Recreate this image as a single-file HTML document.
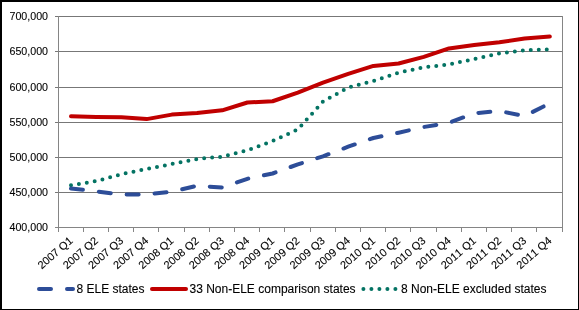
<!DOCTYPE html>
<html><head><meta charset="utf-8"><style>
html,body{margin:0;padding:0;background:#fff;}
body{width:579px;height:310px;overflow:hidden;position:relative;}
svg{position:absolute;left:0;top:0;will-change:transform;}
text{font-family:"Liberation Sans",sans-serif;fill:#000;font-kerning:none;stroke:#000;stroke-width:0.1px;}
</style></head><body>
<svg width="579" height="310" viewBox="0 0 579 310">
<rect x="0" y="0" width="579" height="310" fill="#fff"/>

<line x1="55" y1="16.5" x2="563" y2="16.5" stroke="#777777" stroke-width="1"/>
<line x1="55" y1="51.5" x2="563" y2="51.5" stroke="#777777" stroke-width="1"/>
<line x1="55" y1="87.5" x2="563" y2="87.5" stroke="#777777" stroke-width="1"/>
<line x1="55" y1="122.5" x2="563" y2="122.5" stroke="#777777" stroke-width="1"/>
<line x1="55" y1="157.5" x2="563" y2="157.5" stroke="#777777" stroke-width="1"/>
<line x1="55" y1="192.5" x2="563" y2="192.5" stroke="#777777" stroke-width="1"/>
<line x1="562.5" y1="16" x2="562.5" y2="231" stroke="#858585" stroke-width="1"/>
<line x1="58.5" y1="16" x2="58.5" y2="232" stroke="#858585" stroke-width="1"/>
<line x1="55" y1="227.5" x2="563" y2="227.5" stroke="#858585" stroke-width="1"/>
<line x1="58.5" y1="227" x2="58.5" y2="232" stroke="#858585" stroke-width="1"/>
<line x1="83.5" y1="227" x2="83.5" y2="232" stroke="#858585" stroke-width="1"/>
<line x1="108.5" y1="227" x2="108.5" y2="232" stroke="#858585" stroke-width="1"/>
<line x1="133.5" y1="227" x2="133.5" y2="232" stroke="#858585" stroke-width="1"/>
<line x1="158.5" y1="227" x2="158.5" y2="232" stroke="#858585" stroke-width="1"/>
<line x1="184.5" y1="227" x2="184.5" y2="232" stroke="#858585" stroke-width="1"/>
<line x1="209.5" y1="227" x2="209.5" y2="232" stroke="#858585" stroke-width="1"/>
<line x1="234.5" y1="227" x2="234.5" y2="232" stroke="#858585" stroke-width="1"/>
<line x1="259.5" y1="227" x2="259.5" y2="232" stroke="#858585" stroke-width="1"/>
<line x1="284.5" y1="227" x2="284.5" y2="232" stroke="#858585" stroke-width="1"/>
<line x1="310.5" y1="227" x2="310.5" y2="232" stroke="#858585" stroke-width="1"/>
<line x1="335.5" y1="227" x2="335.5" y2="232" stroke="#858585" stroke-width="1"/>
<line x1="360.5" y1="227" x2="360.5" y2="232" stroke="#858585" stroke-width="1"/>
<line x1="385.5" y1="227" x2="385.5" y2="232" stroke="#858585" stroke-width="1"/>
<line x1="410.5" y1="227" x2="410.5" y2="232" stroke="#858585" stroke-width="1"/>
<line x1="436.5" y1="227" x2="436.5" y2="232" stroke="#858585" stroke-width="1"/>
<line x1="461.5" y1="227" x2="461.5" y2="232" stroke="#858585" stroke-width="1"/>
<line x1="486.5" y1="227" x2="486.5" y2="232" stroke="#858585" stroke-width="1"/>
<line x1="511.5" y1="227" x2="511.5" y2="232" stroke="#858585" stroke-width="1"/>
<line x1="536.5" y1="227" x2="536.5" y2="232" stroke="#858585" stroke-width="1"/>
<line x1="562.5" y1="227" x2="562.5" y2="232" stroke="#858585" stroke-width="1"/>
<text x="48" y="20" font-size="10.67" text-anchor="end">700,000</text>
<text x="48" y="55" font-size="10.67" text-anchor="end">650,000</text>
<text x="48" y="91" font-size="10.67" text-anchor="end">600,000</text>
<text x="48" y="126" font-size="10.67" text-anchor="end">550,000</text>
<text x="48" y="161" font-size="10.67" text-anchor="end">500,000</text>
<text x="48" y="196" font-size="10.67" text-anchor="end">450,000</text>
<text x="48" y="231" font-size="10.67" text-anchor="end">400,000</text>
<text transform="translate(73.60,241.80) rotate(-41.0)" x="0" y="0" font-size="11.0" text-anchor="end">2007 Q1</text>
<text transform="translate(98.80,241.80) rotate(-41.0)" x="0" y="0" font-size="11.0" text-anchor="end">2007 Q2</text>
<text transform="translate(124.00,241.80) rotate(-41.0)" x="0" y="0" font-size="11.0" text-anchor="end">2007 Q3</text>
<text transform="translate(149.20,241.80) rotate(-41.0)" x="0" y="0" font-size="11.0" text-anchor="end">2007 Q4</text>
<text transform="translate(174.40,241.80) rotate(-41.0)" x="0" y="0" font-size="11.0" text-anchor="end">2008 Q1</text>
<text transform="translate(199.60,241.80) rotate(-41.0)" x="0" y="0" font-size="11.0" text-anchor="end">2008 Q2</text>
<text transform="translate(224.80,241.80) rotate(-41.0)" x="0" y="0" font-size="11.0" text-anchor="end">2008 Q3</text>
<text transform="translate(250.00,241.80) rotate(-41.0)" x="0" y="0" font-size="11.0" text-anchor="end">2008 Q4</text>
<text transform="translate(275.20,241.80) rotate(-41.0)" x="0" y="0" font-size="11.0" text-anchor="end">2009 Q1</text>
<text transform="translate(300.40,241.80) rotate(-41.0)" x="0" y="0" font-size="11.0" text-anchor="end">2009 Q2</text>
<text transform="translate(325.60,241.80) rotate(-41.0)" x="0" y="0" font-size="11.0" text-anchor="end">2009 Q3</text>
<text transform="translate(350.80,241.80) rotate(-41.0)" x="0" y="0" font-size="11.0" text-anchor="end">2009 Q4</text>
<text transform="translate(376.00,241.80) rotate(-41.0)" x="0" y="0" font-size="11.0" text-anchor="end">2010 Q1</text>
<text transform="translate(401.20,241.80) rotate(-41.0)" x="0" y="0" font-size="11.0" text-anchor="end">2010 Q2</text>
<text transform="translate(426.40,241.80) rotate(-41.0)" x="0" y="0" font-size="11.0" text-anchor="end">2010 Q3</text>
<text transform="translate(451.60,241.80) rotate(-41.0)" x="0" y="0" font-size="11.0" text-anchor="end">2010 Q4</text>
<text transform="translate(476.80,241.80) rotate(-41.0)" x="0" y="0" font-size="11.0" text-anchor="end">2011 Q1</text>
<text transform="translate(502.00,241.80) rotate(-41.0)" x="0" y="0" font-size="11.0" text-anchor="end">2011 Q2</text>
<text transform="translate(527.20,241.80) rotate(-41.0)" x="0" y="0" font-size="11.0" text-anchor="end">2011 Q3</text>
<text transform="translate(552.40,241.80) rotate(-41.0)" x="0" y="0" font-size="11.0" text-anchor="end">2011 Q4</text>
<polyline points="71.00,185.30 96.20,181.10 121.40,174.20 146.60,169.00 171.80,164.00 197.00,159.00 222.20,156.70 247.40,150.30 272.60,141.00 297.80,129.50 323.00,101.50 348.20,87.60 373.40,80.90 398.60,72.60 423.80,67.30 449.00,64.50 474.20,59.00 499.40,53.30 524.60,50.30 549.80,49.30" fill="none" stroke="#047363" stroke-width="4" stroke-linecap="round" stroke-linejoin="round" stroke-dasharray="0 8"/>
<polyline points="71.00,188.50 96.20,191.30 121.40,194.60 146.60,194.30 171.80,191.70 197.00,185.80 222.20,187.50 247.40,178.80 272.60,173.50 297.80,164.40 323.00,156.30 348.20,146.70 373.40,138.00 398.60,132.70 423.80,127.00 449.00,122.80 474.20,113.30 499.40,111.00 524.60,116.00 549.80,103.30" fill="none" stroke="#2D4D98" stroke-width="4" stroke-linecap="round" stroke-linejoin="round" stroke-dasharray="12 16"/>
<polyline points="71.00,116.30 96.20,117.00 121.40,117.20 146.60,119.10 171.80,114.60 197.00,113.00 222.20,110.35 247.40,102.50 272.60,101.25 297.80,92.60 323.00,82.60 348.20,73.85 373.40,65.90 398.60,63.50 423.80,56.90 449.00,48.40 474.20,45.10 499.40,42.30 524.60,38.60 549.80,36.50" fill="none" stroke="#C00000" stroke-width="4" stroke-linecap="round" stroke-linejoin="round"/>
<line x1="39" y1="289" x2="73" y2="289" stroke="#2D4D98" stroke-width="4" stroke-linecap="round" stroke-dasharray="12 16"/>
<text x="76.5" y="293" font-size="12">8 ELE states</text>
<line x1="152" y1="289" x2="186" y2="289" stroke="#C00000" stroke-width="4" stroke-linecap="round"/>
<text x="189.5" y="293" font-size="12">33 Non-ELE comparison states</text>
<line x1="363.4" y1="289" x2="397.4" y2="289" stroke="#047363" stroke-width="4" stroke-linecap="round" stroke-dasharray="0 8"/>
<text x="401" y="293" font-size="12">8 Non-ELE excluded states</text>
<rect x="0" y="0" width="579" height="2" fill="#000"/>
<rect x="0" y="0" width="2" height="310" fill="#000"/>
<rect x="578" y="0" width="1" height="310" fill="#000"/>
<rect x="0" y="309" width="579" height="1" fill="#000"/>
</svg></body></html>
